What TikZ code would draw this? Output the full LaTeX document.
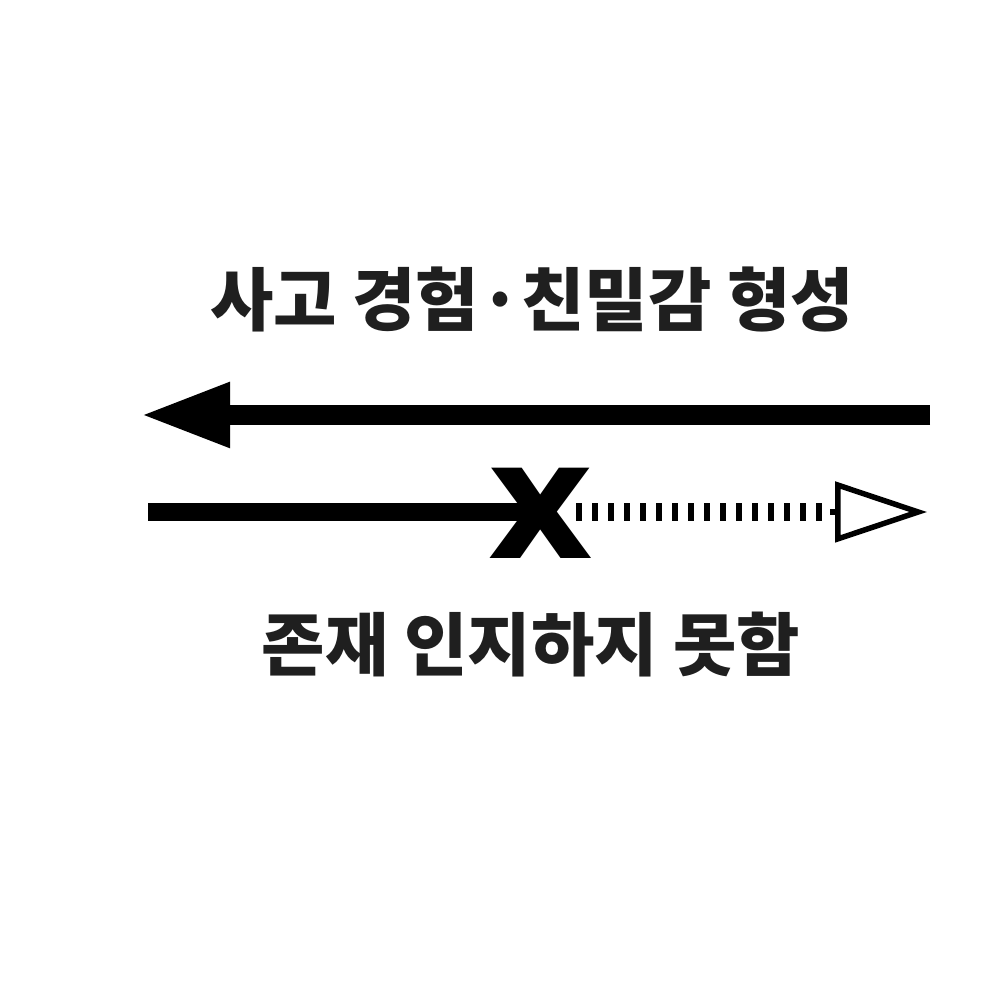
\documentclass[tikz,border=0pt]{standalone}
\usepackage{fontspec}
\newfontfamily\krfont{Noto Sans CJK KR}
\newfontfamily\markfont{DejaVu Sans}
\usetikzlibrary{arrows.meta, positioning}
\tikzset{label text/.style={font=\krfont\bfseries\fontsize{19.6pt}{22pt}\selectfont, text=black!88, inner sep=0pt},
	bold line/.style={line width=2mm, black},
	faded line/.style={line width=1.8mm, black, dash pattern=on 0.6mm off 1.0mm},
	open head/.style={line width=0.55mm, -{Triangle[open, length=9.2mm, width=6mm]}}}

\begin{document}
\begin{tikzpicture}
			\useasboundingbox (0,0) rectangle (10,10);
			\fill[white] (0,0) rectangle (10,10);
			\node[label text] (formed) at (5.32,7.0) {사고 경험·친밀감 형성};
			\node[label text] (unaware) at (5.31,3.55) {존재 인지하지 못함};
			\coordinate (topR) at (9.3,5.85);
			\coordinate (topL) at (1.4,5.85);
			\draw[bold line, -{Triangle[length=9mm, width=6mm]}] (topR) -- (topL);
			% bottom path, blocked
			\coordinate (botL) at (1.48,4.88);
			\coordinate (dotS) at (5.76,4.88);
			\coordinate (headB) at (8.3,4.88);
			\coordinate (botR) at (9.27,4.88);
			\node[inner sep=0pt, font=\markfont\bfseries\fontsize{47pt}{47pt}\selectfont] (blocked) at (5.41,4.87) {x};
			\draw[line width=1.8mm, black] (botL) -- (blocked.center |- botL);
			\draw[faded line] (dotS) -- (headB);
			\draw[open head] (headB) -- (botR);
		\end{tikzpicture}
\end{document}
